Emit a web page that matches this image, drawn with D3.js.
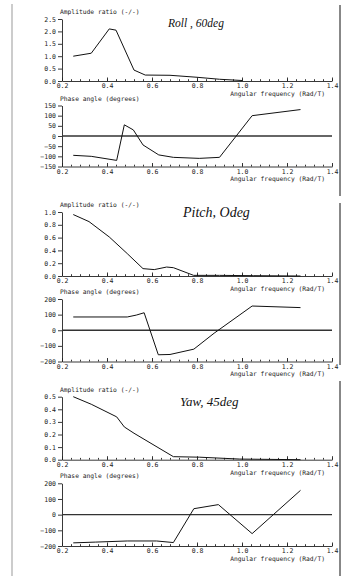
<!DOCTYPE html>
<html>
<head>
<meta charset="utf-8">
<script src="https://cdn.jsdelivr.net/npm/d3@7"></script>
<style>
  html, body { margin: 0; padding: 0; background: #fff; }
  svg { display: block; }
  .axis text { font-family: "DejaVu Sans Mono", monospace; font-size: 6.5px; fill: #222; }
  .axis path, .axis line { stroke: #222; stroke-width: 0.9; }
</style>
</head>
<body>
<div id="chart"></div>
<script>
// Frequency response plots: roll / pitch / yaw, amplitude ratio + phase angle

// shared x axis (angular frequency, Rad/T)
const freqTicks = [0.2, 0.4, 0.6, 0.8, 1.0, 1.2, 1.4];

// Roll, 60deg
const rollFreq  = [0.25, 0.33, 0.41, 0.44, 0.52, 0.57, 0.68, 0.80, 0.90, 1.00];
const rollAmp   = [1.00, 1.12, 2.10, 2.05, 0.44, 0.24, 0.23, 0.15, 0.07, 0.02];
const rollPhFreq = [0.25, 0.33, 0.443, 0.477, 0.517, 0.56, 0.63, 0.695, 0.81, 0.90, 1.045, 1.26];
const rollPhase  = [-95, -100, -120, 55, 30, -44, -93, -105, -110, -105, 100, 130];

// Pitch, 0deg
const pitchFreq = [0.25, 0.32, 0.41, 0.49, 0.56, 0.61, 0.665, 0.695, 0.785, 0.90, 1.05, 1.26];
const pitchAmp  = [0.96, 0.85, 0.61, 0.35, 0.115, 0.10, 0.14, 0.13, 0.01, 0.01, 0.005, 0.0];
const pitchPhFreq = [0.25, 0.49, 0.53, 0.565, 0.628, 0.68, 0.786, 0.876, 1.045, 1.26];
const pitchPhase  = [85, 85, 97, 112, -157, -155, -121, -19, 155, 145];

// Yaw, 45deg
const yawFreq = [0.25, 0.33, 0.443, 0.477, 0.52, 0.695, 0.81, 0.99, 1.26];
const yawAmp  = [0.50, 0.44, 0.34, 0.26, 0.21, 0.024, 0.02, 0.005, 0.0];
const yawPhFreq = [0.25, 0.35, 0.49, 0.62, 0.695, 0.786, 0.895, 1.045, 1.26];
const yawPhase  = [-180, -175, -168, -168, -178, 38, 64, -121, 155];

const W = 353, H = 582;
const svg = d3.select("#chart").append("svg").attr("width", W).attr("height", H);

// page frame lines (scanned sheet edges)
svg.append("line").attr("x1", 12).attr("x2", 12).attr("y1", 4).attr("y2", 576)
  .attr("stroke", "#aaa").attr("stroke-width", 1.2);
[[5, 196], [203, 365], [381, 576]].forEach(s => {
  svg.append("line").attr("x1", 340).attr("x2", 340).attr("y1", s[0]).attr("y2", s[1])
    .attr("stroke", "#111").attr("stroke-width", 1);
});

const x = d3.scaleLinear().domain([0.2, 1.4]).range([62, 332]);
const minorTicks = d3.range(0.2, 1.4001, 0.04);

const panels = [
  {label: "Amplitude ratio (-/-)", dom: [0, 2.5], rng: [81, 19], ticks: [0, 0.5, 1.0, 1.5, 2.0, 2.5], fmt: d3.format(".1f"), xs: rollFreq, ys: rollAmp, zero: false, title: "Roll , 60deg", tx: 168, ty: 27, tsize: 11.5},
  {label: "Phase angle (degrees)", dom: [-150, 150], rng: [166.5, 105.5], ticks: [-150, -100, -50, 0, 50, 100, 150], fmt: d3.format("d"), xs: rollPhFreq, ys: rollPhase, zero: true},
  {label: "Amplitude ratio (-/-)", dom: [0, 1.0], rng: [276, 212], ticks: [0, 0.2, 0.4, 0.6, 0.8, 1.0], fmt: d3.format(".1f"), xs: pitchFreq, ys: pitchAmp, zero: false, title: "Pitch, Odeg", tx: 183, ty: 217, tsize: 14},
  {label: "Phase angle (degrees)", dom: [-200, 200], rng: [361.5, 299], ticks: [-200, -100, 0, 100, 200], fmt: d3.format("d"), xs: pitchPhFreq, ys: pitchPhase, zero: true},
  {label: "Amplitude ratio (-/-)", dom: [0, 0.5], rng: [459.7, 396.7], ticks: [0, 0.1, 0.2, 0.3, 0.4, 0.5], fmt: d3.format(".1f"), xs: yawFreq, ys: yawAmp, zero: false, title: "Yaw, 45deg", tx: 180, ty: 406, tsize: 13},
  {label: "Phase angle (degrees)", dom: [-200, 200], rng: [546, 483.3], ticks: [-200, -100, 0, 100, 200], fmt: d3.format("d"), xs: yawPhFreq, ys: yawPhase, zero: true}
];

panels.forEach(p => {
  const y = d3.scaleLinear().domain(p.dom).range(p.rng);
  const base = p.rng[0];
  const g = svg.append("g");

  // x axis with upward ticks
  g.append("g").attr("class", "axis").attr("transform", `translate(0,${base})`)
    .call(d3.axisBottom(x).tickValues(freqTicks).tickFormat(d3.format(".1f"))
      .tickSizeInner(-3.5).tickSizeOuter(0).tickPadding(2.8));
  g.append("g").attr("class", "axis").attr("transform", `translate(0,${base})`)
    .call(d3.axisBottom(x).tickValues(minorTicks).tickFormat("").tickSizeInner(-1.8).tickSizeOuter(0))
    .select(".domain").remove();

  // y axis
  g.append("g").attr("class", "axis").attr("transform", "translate(62,0)")
    .call(d3.axisLeft(y).tickValues(p.ticks).tickFormat(p.fmt).tickSizeInner(4).tickSizeOuter(0).tickPadding(2));

  // axis titles
  g.append("text").attr("x", 60).attr("y", p.rng[1] - 5)
    .attr("font-family", "DejaVu Sans Mono, monospace").attr("font-size", 6.3).attr("fill", "#222")
    .text(p.label);
  g.append("text").attr("x", 325).attr("y", base + 14.8).attr("text-anchor", "end")
    .attr("font-family", "DejaVu Sans Mono, monospace").attr("font-size", 6.3).attr("fill", "#222")
    .text("Angular frequency (Rad/T)");

  if (p.zero) {
    g.append("line").attr("x1", x(0.2)).attr("x2", x(1.4)).attr("y1", y(0)).attr("y2", y(0))
      .attr("stroke", "#333").attr("stroke-width", 1.3);
  }

  const pts = p.xs.map((f, i) => [f, p.ys[i]]);
  g.append("path").datum(pts)
    .attr("fill", "none").attr("stroke", "#111").attr("stroke-width", 1)
    .attr("d", d3.line().x(d => x(d[0])).y(d => y(d[1])));

  if (p.title) {
    g.append("text").attr("x", p.tx).attr("y", p.ty)
      .attr("font-family", "Liberation Serif, serif").attr("font-style", "italic")
      .attr("font-size", p.tsize).attr("fill", "#111")
      .text(p.title);
  }
});
</script>
</body>
</html>
